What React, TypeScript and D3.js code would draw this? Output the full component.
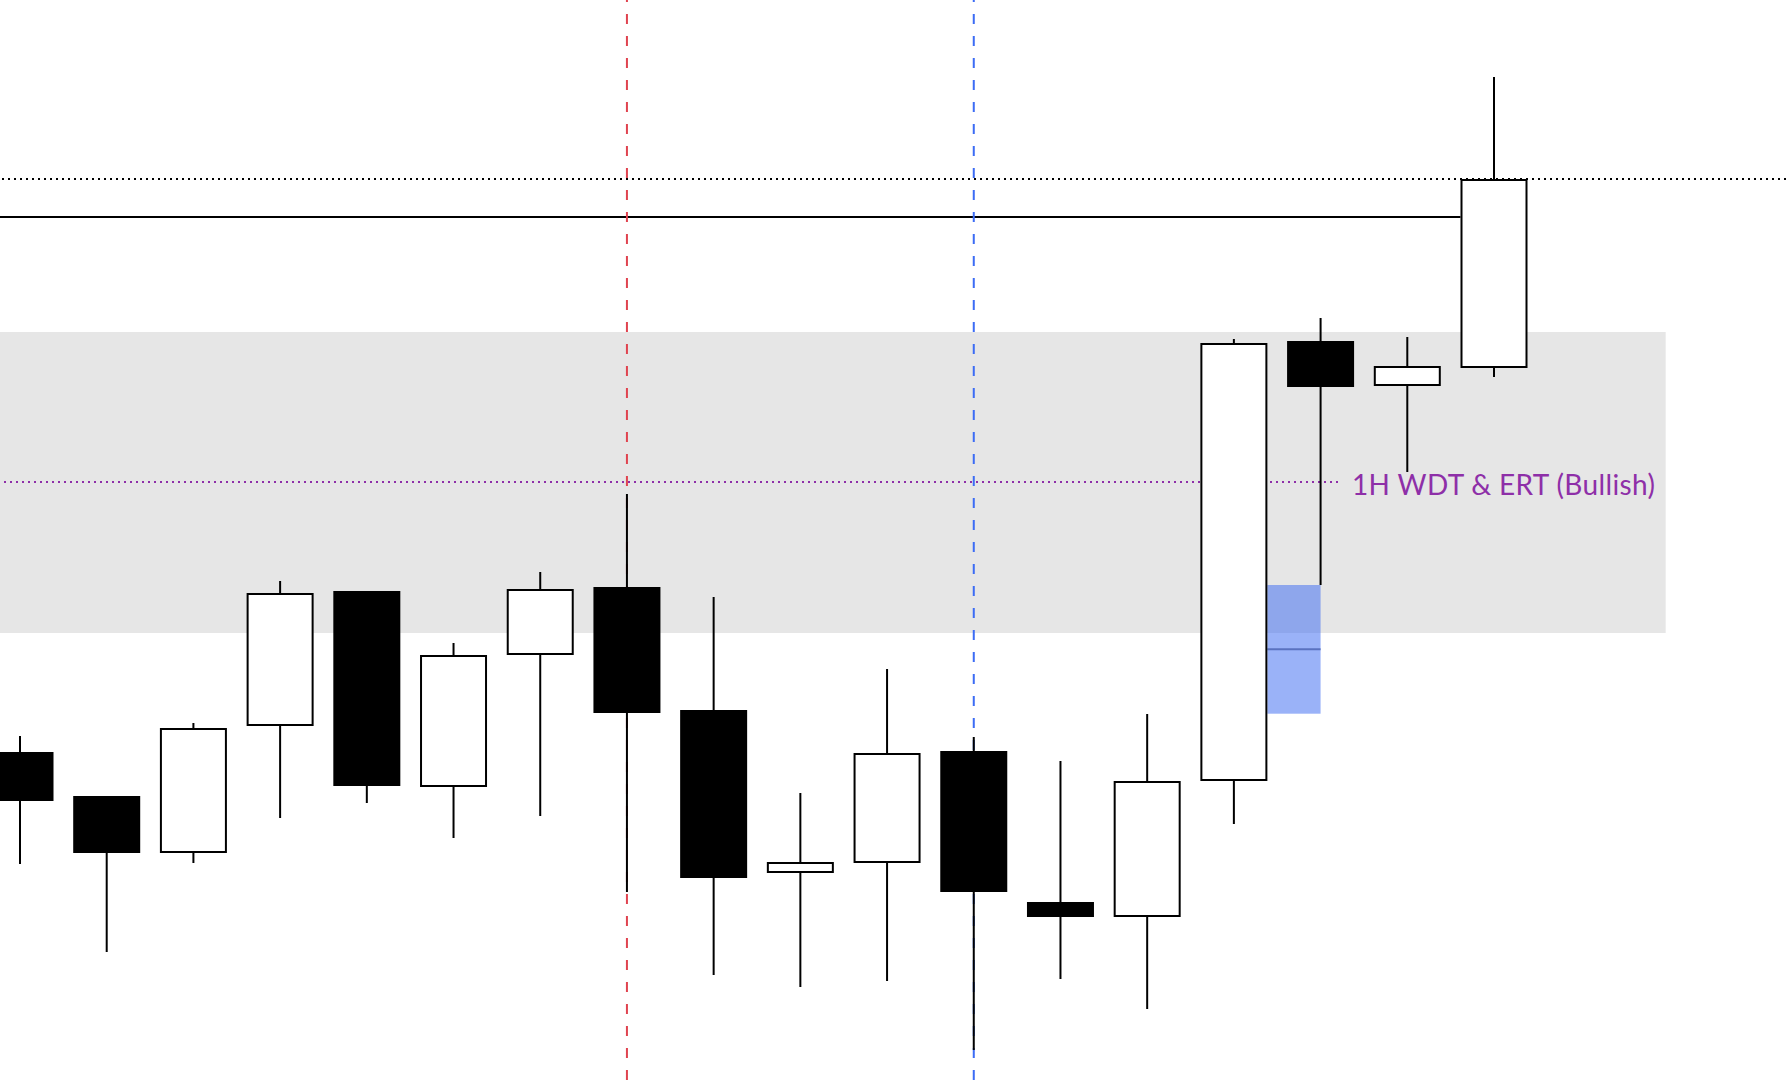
import React from "react";
import * as d3 from "d3";

// Candle data (index, open, high, low, close)
const candleIndex = [0, 1, 2, 3, 4, 5, 6, 7, 8, 9, 10, 11, 12, 13, 14, 15, 16, 17];
const opens = [133.9, 129.5, 124.0, 136.7, 150.0, 130.6, 143.8, 150.4, 138.1, 122.0, 123.0, 134.0, 118.9, 117.6, 131.2, 175.0, 170.7, 172.5];
const highs = [135.6, 129.5, 136.9, 151.1, 150.0, 144.9, 152.0, 159.8, 149.5, 129.9, 142.3, 135.5, 133.1, 137.8, 175.3, 177.4, 175.5, 201.5];
const lows = [122.8, 114.0, 122.9, 127.4, 128.9, 125.4, 127.6, 120.0, 111.7, 110.5, 111.1, 104.2, 111.3, 108.3, 126.8, 150.7, 162.0, 171.5];
const closes = [129.2, 124.0, 136.3, 149.8, 130.7, 143.6, 150.2, 138.0, 121.5, 122.9, 133.8, 120.1, 117.6, 131.0, 174.8, 170.6, 172.5, 191.2];

// Levels and annotations
const dottedLevel = 191.3;
const solidLevel = 187.5;
const zoneTop = 176.0;
const zoneBottom = 145.9;
const zoneEndIndex = 18.98;
const wdtLevel = 161.0;
const wdtLabel = "1H WDT & ERT (Bullish)";
const gapTop = 150.7;
const gapBottom = 137.83;
const gapStartIndex = 14;
const gapEndIndex = 15;
const redLineIndex = 7;
const blueLineIndex = 11;

const W = 1786;
const H = 1092;

export default function App() {
  const x = d3.scaleLinear().domain([0, 17]).range([20, 1494]);
  const y = d3.scaleLinear().domain([100, 209.2]).range([H, 0]);
  const bodyW = 65;

  const candles = candleIndex.map((i) => ({
    i,
    o: opens[i],
    h: highs[i],
    l: lows[i],
    c: closes[i],
  }));

  const labelX = 1352;
  const wdtEnd = 1338;

  return (
    <svg
      width={W}
      height={H}
      style={{ position: "absolute", left: 0, top: 0, background: "#fff" }}
    >
      {/* gray zone */}
      <rect
        x={0}
        y={y(zoneTop)}
        width={x(zoneEndIndex)}
        height={y(zoneBottom) - y(zoneTop)}
        fill="#e6e6e6"
      />
      {/* dotted top level */}
      <line
        x1={0}
        x2={W}
        y1={y(dottedLevel)}
        y2={y(dottedLevel)}
        stroke="#000"
        strokeWidth={2}
        strokeDasharray="2 4"
        strokeDashoffset={4}
      />
      {/* solid level */}
      <line
        x1={0}
        x2={x(17) - bodyW / 2 - 1}
        y1={y(solidLevel)}
        y2={y(solidLevel)}
        stroke="#000"
        strokeWidth={2}
      />
      {/* purple dotted level */}
      <line
        x1={0}
        x2={wdtEnd}
        y1={y(wdtLevel)}
        y2={y(wdtLevel)}
        stroke="#8e2fa8"
        strokeWidth={2}
        strokeDasharray="2 4"
        strokeDashoffset={2}
      />
      <text
        x={labelX}
        y={y(wdtLevel) + 1.5}
        dominantBaseline="central"
        fill="#8e2fa8"
        fontFamily="Lato, 'Open Sans', sans-serif"
        fontSize={28}
        textLength={303}
        lengthAdjust="spacing"
      >
        {wdtLabel}
      </text>
      {/* vertical dashed lines */}
      <line
        x1={x(redLineIndex)}
        x2={x(redLineIndex)}
        y1={0}
        y2={1080}
        stroke="#e0434f"
        strokeWidth={2}
        strokeDasharray="10 12"
        strokeDashoffset={8}
      />
      <line
        x1={x(blueLineIndex)}
        x2={x(blueLineIndex)}
        y1={0}
        y2={1080}
        stroke="#3c6cf5"
        strokeWidth={2}
        strokeDasharray="10 12"
        strokeDashoffset={8}
      />
      {/* blue gap box */}
      <rect
        x={x(gapStartIndex) + bodyW / 2 + 1}
        y={y(gapTop)}
        width={x(gapEndIndex) - x(gapStartIndex) - bodyW / 2 - 1}
        height={y(gapBottom) - y(gapTop)}
        fill="#3d6cf2"
        fillOpacity={0.52}
      />
      <line
        x1={x(gapStartIndex) + bodyW / 2 + 1}
        x2={x(gapEndIndex)}
        y1={y((gapTop + gapBottom) / 2)}
        y2={y((gapTop + gapBottom) / 2)}
        stroke="#5a72c0"
        strokeWidth={2}
      />
      {/* candles */}
      {candles.map((d) => {
        const up = d.c >= d.o;
        const top = y(Math.max(d.o, d.c));
        const bot = y(Math.min(d.o, d.c));
        return (
          <g key={d.i}>
            <line
              x1={x(d.i)}
              x2={x(d.i)}
              y1={y(d.h)}
              y2={y(d.l)}
              stroke="#000"
              strokeWidth={2}
            />
            <rect
              x={x(d.i) - bodyW / 2}
              y={top}
              width={bodyW}
              height={Math.max(bot - top, 1)}
              fill={up ? "#fff" : "#000"}
              stroke="#000"
              strokeWidth={2}
            />
          </g>
        );
      })}
    </svg>
  );
}
